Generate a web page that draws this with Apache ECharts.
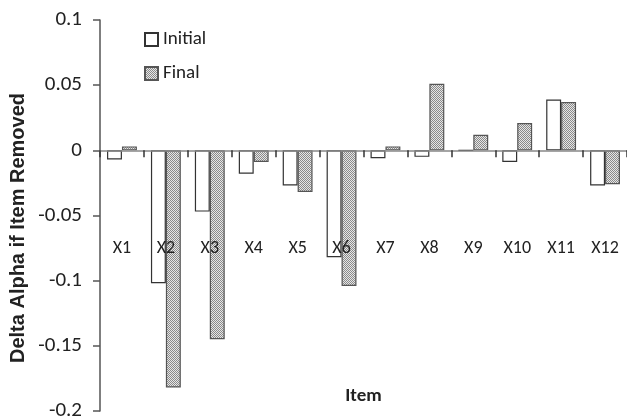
<!DOCTYPE html>
<html>
<head>
<meta charset="utf-8">
<script src="https://cdn.jsdelivr.net/npm/echarts@6/dist/echarts.min.js"></script>
<style>
  html, body { margin: 0; padding: 0; background: #fff; }
  #chart { width: 627px; height: 420px; }
</style>
</head>
<body>
<div id="chart"></div>
<script>
// categories (items)
var items = ["X1", "X2", "X3", "X4", "X5", "X6", "X7", "X8", "X9", "X10", "X11", "X12"];
// delta alpha if item removed
var initialVals = [-0.007, -0.102, -0.047, -0.018, -0.027, -0.082, -0.006, -0.005, 0, -0.009, 0.039, -0.027];
var finalVals = [0.003, -0.182, -0.145, -0.009, -0.032, -0.104, 0.003, 0.051, 0.012, 0.021, 0.037, -0.026];
var yTicks = [-0.2, -0.15, -0.1, -0.05, 0, 0.05, 0.1];
var yTitle = "Delta Alpha if Item Removed";

var font = "Carlito, Lato, 'Open Sans', sans-serif";

// dotted fill for the "Final" bars
function dotPattern() {
  var c = document.createElement("canvas");
  c.width = 2;
  c.height = 2;
  var ctx = c.getContext("2d");
  ctx.fillStyle = "#e6e6e6";
  ctx.fillRect(0, 0, 2, 2);
  ctx.fillStyle = "#8a8a8a";
  ctx.fillRect(0, 0, 1, 1);
  ctx.fillRect(1, 1, 1, 1);
  return c;
}
var pat = { image: dotPattern(), repeat: "repeat" };

var myChart = echarts.init(document.getElementById("chart"));
var option = {
  animation: false,
  grid: { left: 100, right: 0, top: 20, bottom: 9, containLabel: false, outerBoundsMode: "none" },
  legend: {
    orient: "vertical",
    left: 139,
    top: 25,
    itemWidth: 13,
    itemHeight: 13,
    itemGap: 15,
    icon: "rect",
    textStyle: { fontFamily: font, fontSize: 19, color: "#222" },
    data: ["Initial", "Final"]
  },
  // y title sits a bit below the plot middle, so place it by hand
  graphic: [
    {
      type: "text",
      x: 18,
      y: 228,
      rotation: Math.PI / 2,
      style: {
        text: yTitle,
        fontFamily: "'Liberation Sans', Arial, sans-serif",
        fontSize: 20,
        fontWeight: "bold",
        fill: "#222",
        align: "center",
        verticalAlign: "middle"
      }
    }
  ],
  xAxis: {
    type: "category",
    z: 5,
    data: items,
    name: "Item",
    nameLocation: "middle",
    nameGap: -24,
    nameTextStyle: { fontFamily: font, fontSize: 19, fontWeight: "bold", color: "#222" },
    axisLine: { onZero: true, lineStyle: { color: "#888", width: 1.5 } },
    axisTick: { show: true, length: 7, inside: false, lineStyle: { color: "#333", width: 1.5 } },
    // labels sit below the zero line, inside the plot
    axisLabel: { margin: -172, fontFamily: font, fontSize: 18, color: "#222" },
    splitLine: { show: false }
  },
  yAxis: {
    type: "value",
    min: yTicks[0],
    max: yTicks[yTicks.length - 1],
    interval: 0.05,
    axisLine: { show: true, lineStyle: { color: "#555", width: 1.5 } },
    axisTick: { show: true, length: 7, lineStyle: { color: "#555", width: 1.5 } },
    axisLabel: {
      margin: 18,
      fontFamily: font,
      fontSize: 21,
      color: "#222",
      formatter: function (v) { return String(Math.round(v * 100) / 100); }
    },
    splitLine: { show: false }
  },
  series: [
    {
      name: "Initial",
      type: "bar",
      data: initialVals,
      barGap: "0%",
      barCategoryGap: "32%",
      itemStyle: { color: "#fff", borderColor: "#333", borderWidth: 1.2 }
    },
    {
      name: "Final",
      type: "bar",
      data: finalVals,
      itemStyle: { color: pat, borderColor: "#555", borderWidth: 1.2 }
    }
  ]
};
myChart.setOption(option);
</script>
</body>
</html>
